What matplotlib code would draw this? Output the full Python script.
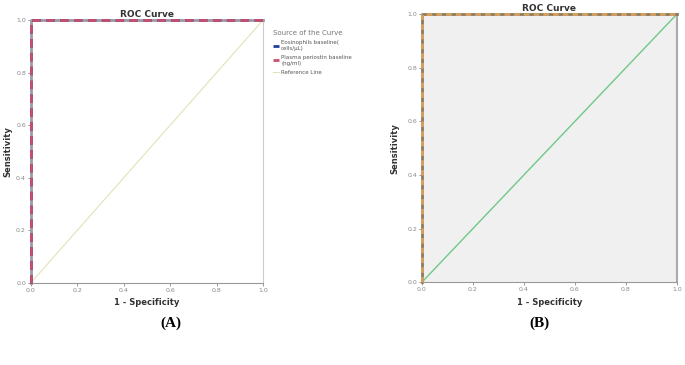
import matplotlib
matplotlib.use("Agg")
import matplotlib.pyplot as plt
import numpy as np

# ROC data (both markers give perfect separation)
fpr_eos = [0.0, 0.0, 1.0]
tpr_eos = [0.0, 1.0, 1.0]
fpr_per = [0.0, 0.0, 1.0]
tpr_per = [0.0, 1.0, 1.0]
ref_line = [0.0, 1.0]
ticks = [0.0, 0.2, 0.4, 0.6, 0.8, 1.0]
tick_labels = ["0.0", "0.2", "0.4", "0.6", "0.8", "1.0"]
legend_labels = ["Eosinophils baseline(\ncells/\u03bcL)",
                 "Plasma periostin baseline\n(ng/ml)",
                 "Reference Line"]

fig = plt.figure(figsize=(6.85, 3.65), dpi=100)
ax1 = fig.add_axes([0.045, 0.225, 0.339, 0.72])
ax2 = fig.add_axes([0.616, 0.227, 0.372, 0.734])


def style(ax, face, ypad):
    ax.set_facecolor(face)
    ax.set_xlim(0, 1)
    ax.set_ylim(0, 1)
    ax.set_xticks(ticks)
    ax.set_yticks(ticks)
    ax.set_xticklabels(tick_labels)
    ax.set_yticklabels(tick_labels)
    ax.tick_params(labelsize=4.5, colors="#888888", length=2.5, width=0.6, pad=1)
    ax.set_title("ROC Curve", fontsize=6.5, fontweight="bold", color="#333333", pad=2)
    ax.set_xlabel("1 - Specificity", fontsize=6, fontweight="bold", color="#333333", labelpad=4)
    ax.set_ylabel("Sensitivity", fontsize=6, fontweight="bold", color="#333333", labelpad=ypad)
    for s in ["top", "right"]:
        ax.spines[s].set_color("#cccccc")
        ax.spines[s].set_linewidth(0.8)
    ax.spines["bottom"].set_color("#999999")
    ax.spines["left"].set_color("#999999")


# Panel A
style(ax1, "white", 3)
ax1.plot(fpr_eos, tpr_eos, color="#9a9aa8", lw=2, clip_on=False, zorder=3)
h1, = ax1.plot(fpr_eos, tpr_eos, color="#2040a0", lw=2, ls=(0, (3, 2)), clip_on=False, zorder=3)
h2, = ax1.plot(fpr_per, tpr_per, color="#c8506e", lw=2, ls=(0, (3, 2)), clip_on=False, zorder=4)
h3, = ax1.plot(ref_line, ref_line, color="#e2e2b8", lw=0.8)
leg = ax1.legend([h1, h2, h3], legend_labels, title="Source of the Curve",
                 loc="upper left", bbox_to_anchor=(1.02, 0.98), frameon=False,
                 fontsize=4, title_fontsize=5, handlelength=1.2, handletextpad=0.3,
                 labelspacing=0.7, alignment="left")
leg.get_title().set_color("#777777")
for t in leg.get_texts():
    t.set_color("#555555")

# Panel B
style(ax2, "#f0f0f0", 6)
ax2.spines["right"].set_color("#aaaaaa")
ax2.spines["right"].set_linewidth(1.5)
ax2.plot(fpr_eos, tpr_eos, color="#8a7a60", lw=2, clip_on=False, zorder=3)
ax2.plot(fpr_per, tpr_per, color="#d8a060", lw=2, ls=(0, (2, 1.5)), clip_on=False, zorder=4)
ax2.plot(ref_line, ref_line, color="#70c888", lw=1)

fig.text(0.25, 0.115, "(A)", fontsize=11, fontweight="bold", family="Liberation Serif", ha="center", va="center")
fig.text(0.788, 0.115, "(B)", fontsize=11, fontweight="bold", family="Liberation Serif", ha="center", va="center")

fig.savefig("out.png", dpi=100)
